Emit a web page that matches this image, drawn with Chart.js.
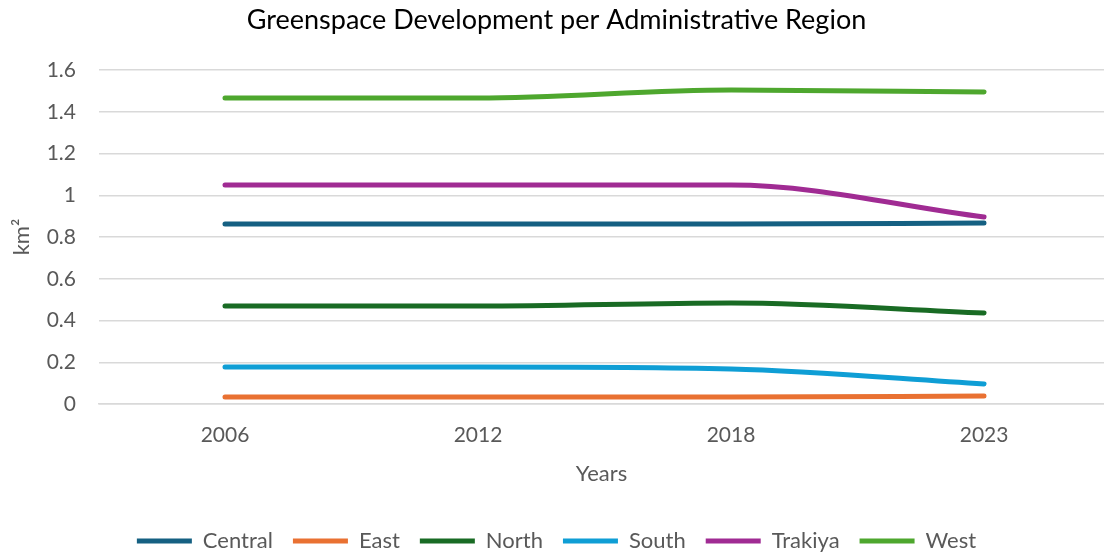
<!DOCTYPE html>
<html>
<head>
<meta charset="utf-8">
<script src="https://cdn.jsdelivr.net/npm/chart.js@4.4.1/dist/chart.umd.min.js"></script>
<style>
html,body{margin:0;padding:0;background:#fff;}
#wrap{width:1104px;height:554px;position:relative;}
</style>
</head>
<body>
<div id="wrap"><canvas id="c" width="1104" height="554"></canvas></div>
<script>
const years = ["2006", "2012", "2018", "2023"];
const central = [0.862, 0.862, 0.862, 0.867];
const east = [0.033, 0.033, 0.033, 0.038];
const north = [0.469, 0.469, 0.484, 0.436];
const south = [0.177, 0.177, 0.168, 0.096];
const trakiya = [1.049, 1.049, 1.049, 0.896];
const west = [1.466, 1.466, 1.504, 1.495];
const yTicks = [0, 0.2, 0.4, 0.6, 0.8, 1, 1.2, 1.4, 1.6];

const FONT = "Lato, 'Open Sans', sans-serif";
const series = [
  ["Central", central, "#156082"],
  ["East", east, "#E97132"],
  ["North", north, "#196B24"],
  ["South", south, "#0F9ED5"],
  ["Trakiya", trakiya, "#A02B93"],
  ["West", west, "#4EA72E"]
];
const datasets = series.map(([name, vals, col]) => ({
  label: name,
  data: vals.map((v, i) => ({x: i, y: v})),
  borderColor: col,
  backgroundColor: col,
  borderWidth: 5,
  borderCapStyle: "round",
  borderJoinStyle: "round",
  pointRadius: 0,
  cubicInterpolationMode: "monotone",
  fill: false
}));

new Chart(document.getElementById("c"), {
  type: "line",
  data: {datasets},
  options: {
    responsive: false,
    animation: false,
    layout: {padding: {top: 4, right: 0, left: 9, bottom: -8}},
    plugins: {
      title: {
        display: true,
        text: "Greenspace Development per Administrative Region",
        font: {family: FONT, size: 27, weight: "normal"},
        color: "#000",
        padding: {top: 0, bottom: 33.6}
      },
      legend: {
        position: "bottom",
        labels: {
          font: {family: FONT, size: 22},
          color: "#595959",
          boxWidth: 55,
          boxHeight: 5,
          padding: 20,
          generateLabels(chart) {
            const items = Chart.defaults.plugins.legend.labels.generateLabels(chart);
            items.forEach(it => { it.lineWidth = 0; });
            return items;
          }
        }
      },
      tooltip: {enabled: false}
    },
    scales: {
      x: {
        type: "linear",
        min: -0.498,
        max: 3.474,
        afterBuildTicks(axis) { axis.ticks = years.map((y, i) => ({value: i})); },
        afterFit(axis) { axis.height = 106; },
        ticks: {
          callback: (v) => years[v],
          font: {family: FONT, size: 21},
          color: "#595959",
          padding: 18.4,
          maxRotation: 0
        },
        grid: {display: false, drawTicks: false},
        border: {display: true, color: "#d9d9d9", width: 1.5},
        title: {
          display: true,
          text: "Years",
          font: {family: FONT, size: 22},
          color: "#595959",
          padding: {top: 0, bottom: 23}
        }
      },
      y: {
        min: 0,
        max: 1.6,
        afterBuildTicks(axis) { axis.ticks = yTicks.map(v => ({value: v})); },
        afterFit(axis) { axis.width = 90; },
        ticks: {
          callback: (v) => String(v),
          font: {family: FONT, size: 21},
          color: "#595959",
          padding: 23
        },
        grid: {color: "#d9d9d9", lineWidth: 1.5, drawTicks: false},
        border: {display: false},
        title: {
          display: true,
          text: "km²",
          font: {family: FONT, size: 22},
          color: "#595959",
          padding: {top: 0, bottom: 11.6}
        }
      }
    }
  }
});
</script>
</body>
</html>
